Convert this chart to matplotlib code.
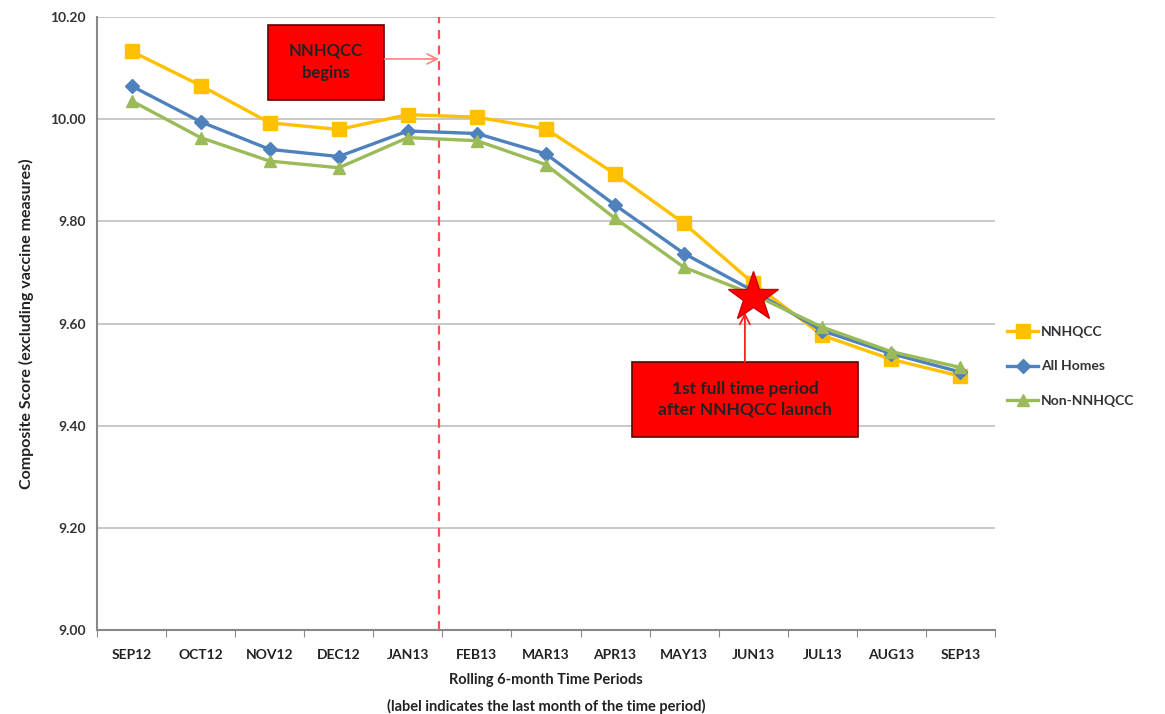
import matplotlib.pyplot as plt
import matplotlib.patches as patches
import numpy as np

plt.rcParams['font.family'] = ['Lato', 'DejaVu Sans']

periods = ['SEP12', 'OCT12', 'NOV12', 'DEC12', 'JAN13', 'FEB13', 'MAR13',
           'APR13', 'MAY13', 'JUN13', 'JUL13', 'AUG13', 'SEP13']
nnhqcc = [10.133, 10.066, 9.993, 9.980, 10.009, 10.004, 9.981,
          9.893, 9.796, 9.679, 9.577, 9.530, 9.497]
all_homes = [10.065, 9.995, 9.941, 9.927, 9.977, 9.972, 9.932,
             9.832, 9.737, 9.664, 9.586, 9.541, 9.505]
non_nnhqcc = [10.036, 9.964, 9.918, 9.905, 9.964, 9.958, 9.911,
              9.806, 9.710, 9.657, 9.593, 9.545, 9.514]
yticks = [9.00, 9.20, 9.40, 9.60, 9.80, 10.00, 10.20]

x = np.arange(len(periods))

fig = plt.figure(figsize=(11.65, 7.14), dpi=100)
ax = fig.add_axes([0.0833, 0.1176, 0.7707, 0.8585])

ax.plot(x, nnhqcc, color='#FFC000', lw=2.4, marker='s', ms=10, label='NNHQCC', zorder=3)
ax.plot(x, all_homes, color='#4F81BD', lw=2.4, marker='D', ms=7, label='All Homes', zorder=4)
ax.plot(x, non_nnhqcc, color='#9BBB59', lw=2.4, marker='^', ms=9, label='Non-NNHQCC', zorder=5)

ax.set_xlim(-0.5, len(periods) - 0.5)
ax.set_ylim(9.0, 10.2)
ax.set_yticks(yticks)
ax.set_yticklabels(['%.2f' % v for v in yticks], fontsize=10, fontweight='bold', color='#333333')
ax.yaxis.grid(True, color='#BFBFBF', lw=1.2)
ax.set_axisbelow(True)
ax.tick_params(axis='y', length=0, pad=8)

# ticks between categories, labels centered
ax.set_xticks(np.arange(-0.5, len(periods), 1.0))
ax.set_xticklabels([])
ax.set_xticks(x, minor=True)
ax.set_xticklabels(periods, minor=True, fontsize=10, fontweight='bold', color='#222222')
ax.tick_params(axis='x', which='major', length=5, color='#888888', direction='out')
ax.tick_params(axis='x', which='minor', length=0, pad=14)

for s in ['top', 'right']:
    ax.spines[s].set_visible(False)
for s in ['left', 'bottom']:
    ax.spines[s].set_color('#888888')
    ax.spines[s].set_linewidth(1.5)

ax.set_xlabel('Rolling 6-month Time Periods\n(label indicates the last month of the time period)',
              fontsize=10.5, fontweight='bold', color='#222222', linespacing=2.0, labelpad=8)
ax.set_ylabel('Composite Score (excluding vaccine measures)', fontsize=11.5,
              fontweight='bold', color='#222222', labelpad=12)

# NNHQCC launch line
ax.axvline(4.45, color='#FF5050', ls=(0, (4, 3)), lw=1.6, zorder=2)

# box 1: NNHQCC begins
ax.add_patch(patches.Rectangle((1.97, 10.038), 1.69, 0.147, fc='#FF0000', ec='#660000',
                               lw=1.2, zorder=6))
ax.text(2.815, 10.113, 'NNHQCC\nbegins', ha='center', va='center', fontsize=12,
        fontweight='bold', color='#222222', linespacing=1.5, zorder=7)
ax.annotate('', xy=(4.45, 10.118), xytext=(3.66, 10.118),
            arrowprops=dict(arrowstyle='->', color='#FF8080', lw=1.2, mutation_scale=18,
                            shrinkA=0, shrinkB=0), zorder=7)

# star + box 2
ax.plot([9], [9.652], marker='*', ms=38, color='#FF0000', mec='#CC0000', zorder=8)
ax.add_patch(patches.Rectangle((7.24, 9.378), 3.28, 0.147, fc='#FF0000', ec='#660000',
                               lw=1.2, zorder=6))
ax.text(8.88, 9.452, '1st full time period\nafter NNHQCC launch', ha='center', va='center',
        fontsize=12.5, fontweight='bold', color='#222222', linespacing=1.4, zorder=7)
ax.annotate('', xy=(8.88, 9.622), xytext=(8.88, 9.525),
            arrowprops=dict(arrowstyle='->', color='#FF2020', lw=1.3, mutation_scale=18,
                            shrinkA=0, shrinkB=0), zorder=7)

leg = ax.legend(loc='center left', bbox_to_anchor=(1.0, 0.43), frameon=False,
                fontsize=10, handlelength=2.2, handletextpad=0.2, labelspacing=1.6)
for t in leg.get_texts():
    t.set_fontweight('bold')
    t.set_color('#333333')

fig.savefig('out.png', dpi=100)
